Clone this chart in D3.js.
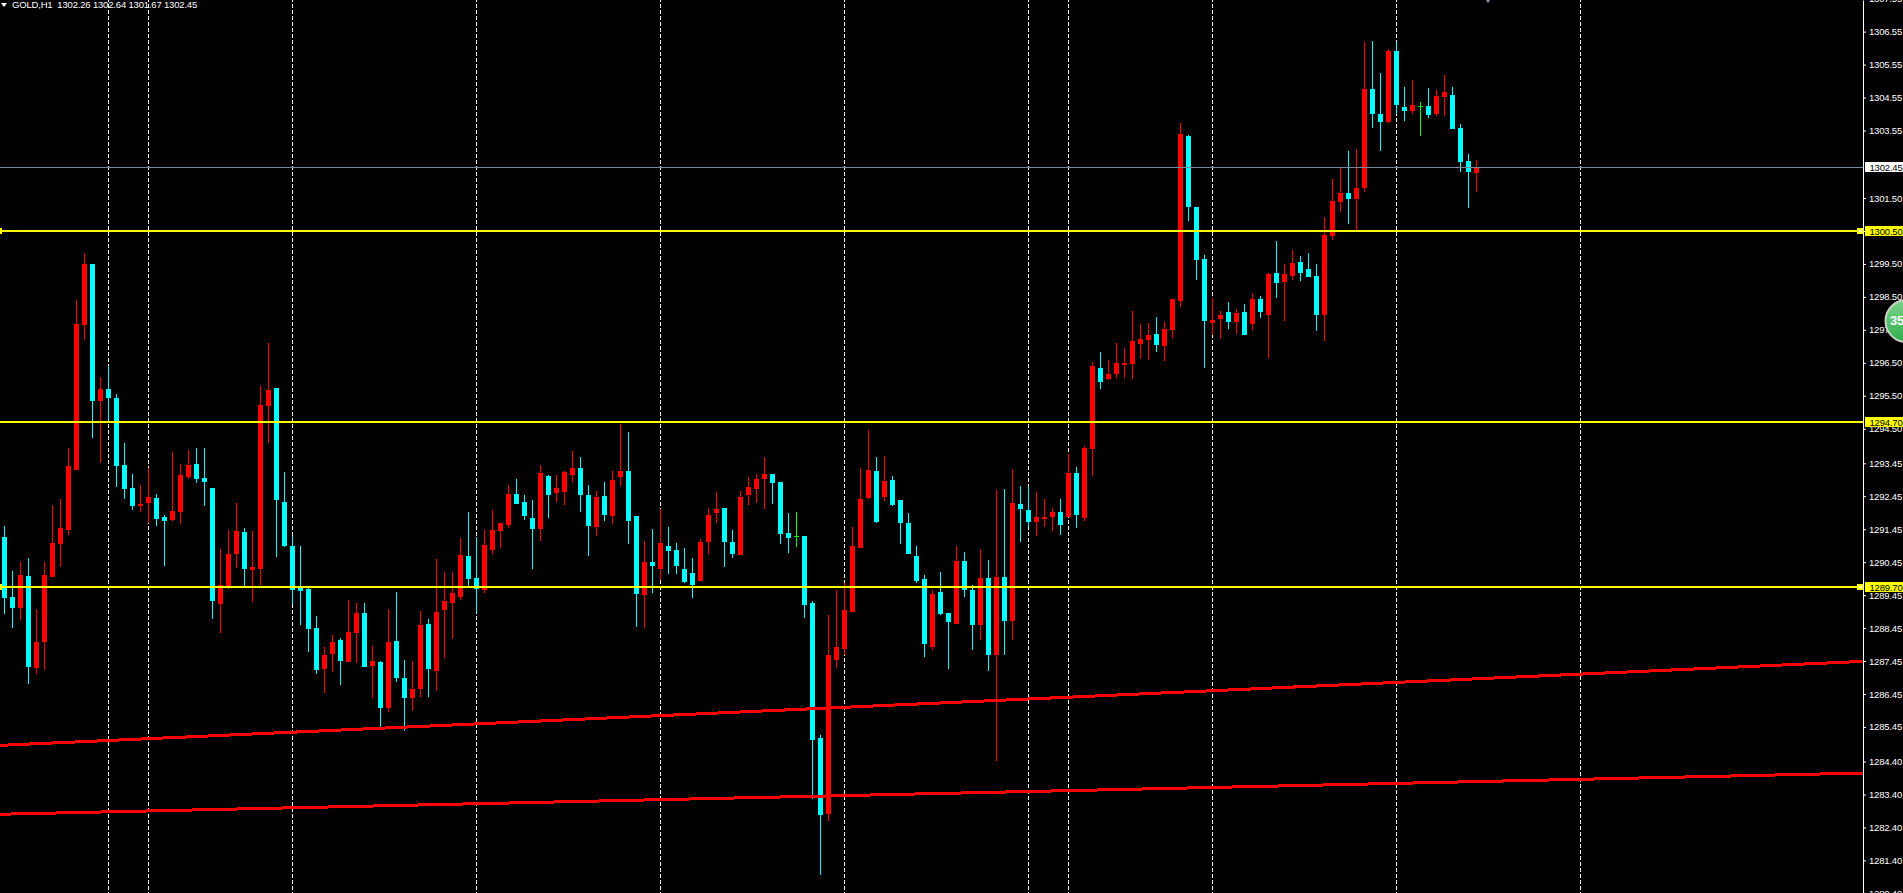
<!DOCTYPE html>
<html>
<head>
<meta charset="utf-8">
<title>GOLD,H1</title>
<script src="https://cdnjs.cloudflare.com/ajax/libs/d3/7.8.5/d3.min.js"></script>
<style>
  html, body { margin: 0; padding: 0; background: #000; overflow: hidden; }
  svg { display: block; }
  text { font-family: "Liberation Sans", sans-serif; letter-spacing: -0.18px; }
</style>
</head>
<body>
<div id="svg-container"></div>
<script>
////////////////////////////////////////////////////////////////////
////////////////////////////  Data  ////////////////////////////////
const opens = [
  1291.22,1289.40,1289.07,1290.04,1287.25,1288.03,1290.01,1291.01,1291.43,1293.25,
  1297.65,1299.50,1295.35,1295.71,1295.44,1293.40,1292.71,1292.16,1292.25,1292.40,
  1291.83,1291.74,1291.98,1293.04,1293.43,1293.01,1292.71,1289.19,1289.70,1290.70,
  1291.37,1290.22,1290.25,1295.19,1295.74,1292.28,1290.95,1289.73,1289.64,1288.46,
  1287.21,1287.66,1288.09,1287.42,1288.30,1288.91,1287.30,1287.42,1286.03,1288.06,
  1286.94,1286.33,1286.60,1288.57,1287.15,1289.00,1289.21,1289.39,1290.64,1289.97,
  1289.61,1290.82,1291.40,1291.58,1292.52,1292.28,1291.79,1291.46,1293.06,1292.55,
  1292.58,1293.09,1293.31,1292.49,1291.52,1292.46,1291.85,1293.03,1293.22,1291.85,
  1289.46,1290.46,1290.25,1290.95,1290.83,1290.25,1290.13,1289.89,1291.07,1291.95,
  1292.10,1291.07,1290.67,1292.49,1292.68,1292.98,1293.13,1292.89,1291.34,1291.24,
  1291.25,1289.22,1285.12,1282.82,1287.49,1287.82,1288.94,1290.89,1292.40,1293.22,
  1292.43,1292.95,1292.34,1291.65,1290.64,1289.95,1287.88,1289.55,1288.91,1288.58,
  1290.49,1289.61,1288.55,1289.97,1287.64,1290.00,1288.67,1292.22,1292.04,1291.67,
  1291.76,1291.82,1291.98,1291.82,1293.16,1291.79,1293.89,1296.35,1296.02,1296.17,
  1296.44,1296.47,1297.08,1297.20,1297.38,1297.02,1297.50,1298.38,1303.39,1301.23,
  1299.66,1297.71,1297.84,1298.05,1297.74,1298.05,1297.68,1298.44,1297.96,1299.23,
  1298.95,1299.13,1299.56,1299.34,1299.13,1297.95,1300.34,1301.38,1301.65,1301.47,
  1301.80,1304.81,1304.05,1303.81,1305.96,1304.26,1304.14,1304.28,1304.29,1304.05,
  1304.56,1304.62,1303.62,1302.62,1302.26
];
const highs = [
  1291.55,1290.19,1290.46,1290.58,1289.04,1290.46,1292.19,1292.37,1293.92,1298.41,
  1299.84,1299.50,1296.07,1296.41,1295.56,1294.07,1293.13,1292.80,1293.31,1292.52,
  1291.89,1293.80,1293.43,1293.86,1293.92,1293.92,1292.71,1290.86,1291.43,1292.25,
  1291.49,1291.40,1295.80,1297.11,1295.74,1293.19,1291.25,1290.95,1289.67,1288.82,
  1287.88,1288.24,1288.15,1289.30,1289.21,1289.21,1287.91,1287.45,1289.03,1289.54,
  1287.48,1287.45,1288.97,1288.73,1290.55,1290.15,1290.15,1291.18,1291.97,1291.21,
  1291.43,1292.03,1291.64,1292.79,1292.97,1292.49,1292.34,1293.40,1293.09,1293.09,
  1293.22,1293.82,1293.64,1292.79,1292.61,1292.88,1293.22,1294.64,1294.40,1291.85,
  1291.10,1291.46,1292.07,1291.52,1291.04,1290.89,1290.58,1291.16,1292.10,1292.59,
  1292.10,1291.43,1292.62,1293.04,1293.13,1293.65,1293.13,1292.89,1291.95,1291.98,
  1291.25,1289.28,1285.21,1288.85,1289.61,1289.82,1291.52,1293.31,1294.47,1293.65,
  1293.68,1293.07,1292.34,1291.95,1290.95,1290.07,1289.61,1290.16,1288.91,1290.95,
  1290.76,1289.76,1290.85,1290.52,1292.64,1292.67,1293.28,1292.76,1292.73,1292.58,
  1292.37,1292.10,1292.37,1293.74,1293.34,1293.98,1296.53,1296.83,1296.59,1297.11,
  1296.96,1298.08,1297.68,1297.71,1297.90,1297.74,1298.44,1303.78,1303.42,1301.23,
  1299.78,1298.47,1298.08,1298.35,1298.14,1298.29,1298.62,1298.53,1299.23,1300.20,
  1299.49,1299.92,1299.74,1299.83,1299.49,1300.92,1302.08,1302.44,1302.93,1302.99,
  1306.23,1306.26,1305.29,1306.02,1306.23,1304.87,1305.08,1304.41,1304.84,1304.78,
  1305.23,1304.87,1303.74,1302.83,1302.64
];
const lows = [
  1288.88,1288.46,1288.70,1286.76,1287.06,1287.18,1290.01,1290.31,1291.28,1293.25,
  1297.20,1294.22,1293.46,1294.77,1292.74,1292.37,1292.04,1291.98,1291.64,1291.55,
  1290.34,1291.70,1291.61,1292.98,1292.86,1292.16,1288.73,1288.31,1289.64,1290.28,
  1289.70,1289.25,1289.76,1294.07,1290.61,1290.92,1289.19,1288.55,1287.73,1287.06,
  1286.48,1287.12,1286.72,1287.42,1287.39,1287.27,1286.33,1285.42,1285.90,1286.81,
  1285.33,1285.93,1286.36,1286.36,1286.54,1287.54,1288.12,1289.30,1289.73,1288.91,
  1289.51,1290.70,1290.88,1291.49,1292.21,1291.73,1290.24,1291.09,1291.79,1292.28,
  1292.18,1292.88,1291.97,1290.64,1291.24,1291.70,1291.61,1292.76,1291.00,1288.48,
  1288.46,1289.52,1289.92,1290.10,1290.10,1289.82,1289.37,1289.89,1290.70,1291.65,
  1290.31,1290.58,1290.67,1292.19,1292.25,1292.07,1292.22,1291.01,1290.73,1290.92,
  1288.76,1283.27,1280.97,1282.60,1287.25,1287.64,1288.94,1290.89,1292.37,1291.65,
  1292.31,1292.16,1291.01,1290.70,1289.82,1287.58,1287.79,1288.85,1287.22,1288.58,
  1289.40,1287.79,1288.09,1287.15,1284.42,1287.64,1288.09,1291.07,1291.52,1291.25,
  1291.52,1291.40,1291.28,1291.82,1291.49,1291.70,1293.07,1295.71,1295.99,1296.05,
  1296.05,1296.02,1296.62,1296.59,1296.83,1296.56,1297.26,1298.20,1300.81,1299.02,
  1296.35,1297.35,1297.23,1297.53,1297.38,1297.35,1297.50,1297.87,1296.65,1298.47,
  1297.77,1299.01,1298.98,1299.10,1297.46,1297.16,1300.22,1301.07,1300.71,1300.50,
  1301.68,1303.62,1302.93,1303.78,1304.05,1303.84,1304.05,1303.38,1303.93,1303.99,
  1303.99,1303.59,1302.29,1301.20,1301.67
];
const closes = [
  1289.37,1289.07,1290.07,1287.28,1288.03,1290.07,1291.04,1291.49,1293.37,1297.68,
  1299.50,1295.35,1295.71,1295.44,1293.37,1292.68,1292.16,1292.22,1292.43,1291.77,
  1291.70,1292.01,1293.10,1293.40,1292.98,1292.89,1289.28,1289.76,1290.70,1291.40,
  1290.25,1290.31,1295.22,1295.68,1292.34,1290.95,1289.61,1289.58,1288.43,1287.18,
  1287.63,1288.03,1287.45,1288.33,1288.91,1287.27,1287.45,1286.03,1288.03,1286.94,
  1286.33,1286.60,1288.54,1287.21,1288.94,1289.27,1289.51,1290.67,1289.94,1289.64,
  1290.97,1291.43,1291.64,1292.52,1292.21,1291.85,1291.46,1293.16,1292.49,1292.70,
  1293.19,1293.31,1292.49,1291.55,1292.43,1291.88,1292.94,1293.22,1291.70,1289.48,
  1290.46,1290.34,1291.04,1290.80,1290.34,1289.86,1289.76,1291.07,1291.89,1292.07,
  1291.07,1290.70,1292.43,1292.74,1292.98,1293.13,1292.86,1291.31,1291.19,1291.24,
  1289.16,1285.06,1282.79,1287.64,1287.88,1289.01,1290.95,1292.37,1293.25,1291.68,
  1292.92,1292.19,1291.65,1290.70,1289.89,1287.97,1289.49,1288.88,1288.64,1290.49,
  1289.61,1288.55,1289.97,1287.64,1290.00,1288.67,1292.25,1292.07,1291.67,1291.82,
  1291.82,1291.98,1291.58,1293.16,1291.88,1293.92,1296.41,1295.92,1296.17,1296.50,
  1296.50,1297.17,1297.23,1297.35,1297.05,1297.53,1298.44,1303.45,1301.23,1299.63,
  1297.78,1297.81,1297.96,1297.74,1298.02,1297.35,1298.44,1298.05,1299.20,1298.93,
  1299.19,1299.53,1299.22,1299.10,1297.95,1300.37,1301.41,1301.65,1301.47,1301.80,
  1304.81,1304.05,1303.81,1305.96,1304.32,1304.14,1304.32,1304.28,1304.02,1304.59,
  1304.72,1303.59,1302.59,1302.29,1302.45
];

// bars where the terminal draws its period separators
const separatorBars = [13, 18, 36, 59, 82, 105, 128, 133, 151, 174, 197];

const priceTicks = [
  1307.55, 1306.55, 1305.55, 1304.55, 1303.55, 1301.50, 1300.50, 1299.50,
  1298.50, 1297.50, 1296.50, 1295.50, 1294.50, 1293.45, 1292.45, 1291.45,
  1290.45, 1289.45, 1288.45, 1287.45, 1286.45, 1285.45, 1284.40, 1283.40,
  1282.40, 1281.40, 1280.40
];

const levels = [1300.5, 1294.7, 1289.7];
const anchoredLevels = [1300.5, 1289.7];
const bidPrice = 1302.45;
const trendUpper = [1284.89, 1287.44];
const trendLower = [1282.80, 1284.05];
const header = "GOLD,H1  1302.26 1302.64 1301.67 1302.45";

////////////////////////////////////////////////////////////////////
////////////////////////////  Init  ////////////////////////////////
const width = 1903;
const height = 893;
const plotRight = 1863.5;

const svg = d3
  .select("#svg-container")
  .append("svg")
  .attr("id", "svg")
  .attr("width", width)
  .attr("height", height);

const xScale = d3.scaleLinear().domain([0, 197]).range([4.5, 1580.5]);
const yScale = d3.scaleLinear().domain([1307.51, 1280.41]).range([0, height]);

// snap to whole pixels, the chart has no antialiasing
const snapY = (p) => Math.round(yScale(p));

const candles = opens.map((o, i) => ({
  i,
  open: o,
  high: highs[i],
  low: lows[i],
  close: closes[i],
}));

const candleColor = (d) =>
  d.close > d.open ? "#ff0000" : d.close < d.open ? "#00ffff" : "#00ff00";

////////////////////////////////////////////////////////////////////
////////////////////////////  Separators  //////////////////////////
svg
  .selectAll(".separator")
  .data(separatorBars)
  .enter()
  .append("line")
  .attr("class", "separator")
  .attr("x1", (d) => xScale(d))
  .attr("x2", (d) => xScale(d))
  .attr("y1", 0)
  .attr("y2", height)
  .attr("stroke", "#fff")
  .attr("stroke-width", 1)
  .attr("stroke-dasharray", "4 2")
  .attr("stroke-dashoffset", 2)
  .attr("shape-rendering", "crispEdges");

////////////////////////////////////////////////////////////////////
////////////////////////////  Candles  /////////////////////////////
const candleG = svg
  .append("g")
  .attr("shape-rendering", "crispEdges")
  .selectAll("g")
  .data(candles)
  .enter()
  .append("g");

// wicks
candleG
  .append("rect")
  .attr("x", (d) => xScale(d.i) - 0.5)
  .attr("width", 1)
  .attr("y", (d) => snapY(d.high))
  .attr("height", (d) => Math.max(1, snapY(d.low) - snapY(d.high)))
  .attr("fill", candleColor);

// bodies
candleG
  .append("rect")
  .attr("x", (d) => xScale(d.i) - 2.5)
  .attr("width", 5)
  .attr("y", (d) => snapY(Math.max(d.open, d.close)))
  .attr("height", (d) =>
    Math.max(1, snapY(Math.min(d.open, d.close)) - snapY(Math.max(d.open, d.close)))
  )
  .attr("fill", candleColor);

////////////////////////////////////////////////////////////////////
////////////////////////////  Price lines  /////////////////////////
// bid line
svg
  .append("line")
  .attr("x1", 0)
  .attr("x2", plotRight)
  .attr("y1", snapY(bidPrice) + 0.5)
  .attr("y2", snapY(bidPrice) + 0.5)
  .attr("stroke", "#778899")
  .attr("shape-rendering", "crispEdges");

// trend lines
[trendUpper, trendLower].forEach((t) => {
  svg
    .append("line")
    .attr("x1", 0)
    .attr("x2", plotRight)
    .attr("y1", yScale(t[0]))
    .attr("y2", yScale(t[1]))
    .attr("stroke", "#ff0000")
    .attr("stroke-width", 3)
    .attr("shape-rendering", "crispEdges");
});

// horizontal levels
svg
  .selectAll(".level")
  .data(levels)
  .enter()
  .append("line")
  .attr("class", "level")
  .attr("x1", 0)
  .attr("x2", plotRight)
  .attr("y1", (d) => snapY(d))
  .attr("y2", (d) => snapY(d))
  .attr("stroke", "#ffff00")
  .attr("stroke-width", 2)
  .attr("shape-rendering", "crispEdges");

// anchor squares on the selected levels
const anchors = svg.selectAll(".anchor").data(anchoredLevels).enter().append("g");
anchors
  .append("rect")
  .attr("x", 1857)
  .attr("y", (d) => snapY(d) - 3)
  .attr("width", 6)
  .attr("height", 6)
  .attr("fill", "#ffff00");
anchors
  .append("rect")
  .attr("x", 1859)
  .attr("y", (d) => snapY(d) - 1)
  .attr("width", 2)
  .attr("height", 2)
  .attr("fill", "#fff");
anchors
  .append("rect")
  .attr("x", 0)
  .attr("y", (d) => snapY(d) - 3)
  .attr("width", 2)
  .attr("height", 6)
  .attr("fill", "#ffff00");

////////////////////////////////////////////////////////////////////
////////////////////////////  Axis  ////////////////////////////////
const yAxis = d3
  .axisRight(yScale)
  .tickValues(priceTicks)
  .tickFormat(d3.format(".2f"))
  .tickSizeInner(3)
  .tickSizeOuter(0)
  .tickPadding(3);

const axisG = svg
  .append("g")
  .attr("class", "y-axis")
  .attr("transform", `translate(${plotRight - 0.5},0)`)
  .attr("color", "#fff")
  .call(yAxis);

axisG.selectAll("text").attr("font-size", 9.5).attr("font-family", "Liberation Sans, sans-serif");

// price tags sit on top of the scale
const tags = levels
  .map((p) => ({ price: p, bg: "#ffff00" }))
  .concat([{ price: bidPrice, bg: "#fff" }]);

const tagG = svg.selectAll(".tag").data(tags).enter().append("g");
tagG
  .append("rect")
  .attr("x", 1865)
  .attr("y", (d) => snapY(d.price) - 5)
  .attr("width", width - 1865)
  .attr("height", 10)
  .attr("fill", (d) => d.bg);
tagG
  .append("text")
  .attr("x", 1869.5)
  .attr("y", (d) => snapY(d.price) + 3.5)
  .attr("font-size", 9.5)
  .attr("fill", "#000")
  .text((d) => d3.format(".2f")(d.price));

////////////////////////////////////////////////////////////////////
////////////////////////////  Header  //////////////////////////////
svg
  .append("path")
  .attr("d", "M1 3 L7 3 L4 7 Z")
  .attr("fill", "#fff");

svg
  .append("text")
  .attr("x", 12)
  .attr("y", 8)
  .attr("font-size", 9.5)
  .attr("fill", "#fff")
  .attr("xml:space", "preserve")
  .style("white-space", "pre")
  .text(header);

////////////////////////////////////////////////////////////////////
////////////////////////////  Badge  ///////////////////////////////
const gradient = svg
  .append("defs")
  .append("linearGradient")
  .attr("id", "badge-fill")
  .attr("x1", 0)
  .attr("y1", 0)
  .attr("x2", 0)
  .attr("y2", 1);
gradient.append("stop").attr("offset", "0%").attr("stop-color", "#7ed48a");
gradient.append("stop").attr("offset", "100%").attr("stop-color", "#2fae4e");

svg
  .append("circle")
  .attr("cx", 1906.5)
  .attr("cy", 321)
  .attr("r", 21)
  .attr("fill", "url(#badge-fill)")
  .attr("stroke", "#c9d2cb")
  .attr("stroke-width", 2);

svg
  .append("text")
  .attr("x", 1890)
  .attr("y", 325)
  .attr("font-size", 13)
  .attr("font-weight", "bold")
  .attr("fill", "#fff")
  .text("35");

// small marker clipped by the top edge
svg
  .append("path")
  .attr("d", "M1486 0 L1490 0 L1488 3 Z")
  .attr("fill", "#8a97a8");
</script>
</body>
</html>
